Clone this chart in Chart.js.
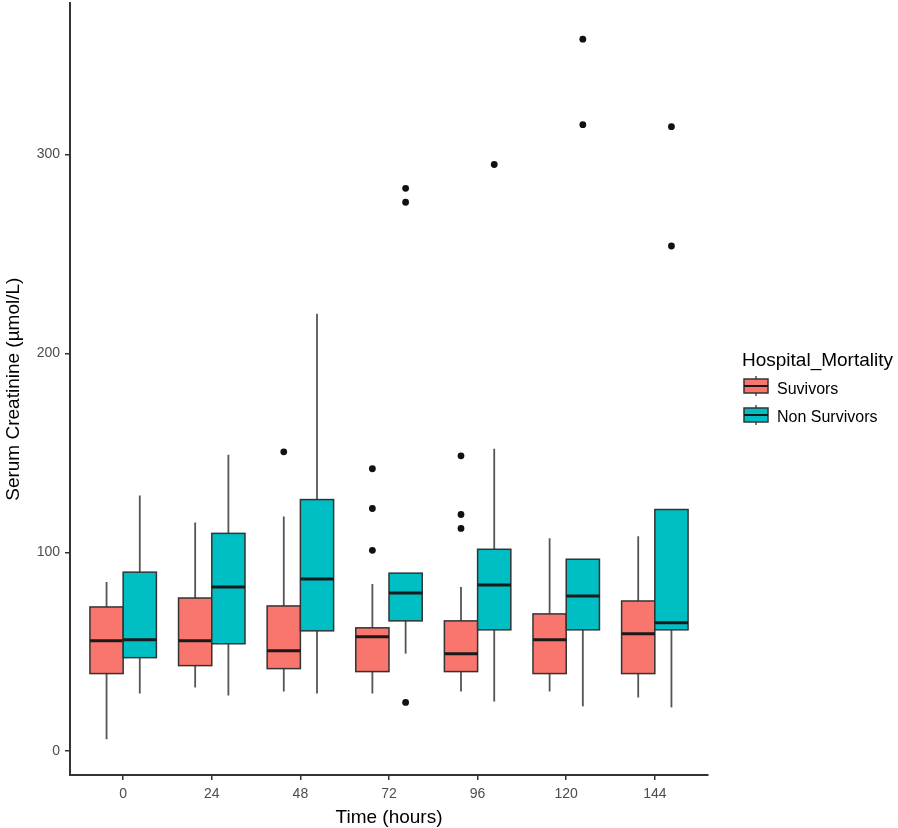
<!DOCTYPE html>
<html>
<head>
<meta charset="utf-8">
<script src="https://cdn.jsdelivr.net/npm/chart.js@4/dist/chart.umd.min.js"></script>
<style>
html,body{margin:0;padding:0;background:#fff;}
#wrap{width:898px;height:828px;position:relative;}
</style>
</head>
<body>
<div id="wrap"><canvas id="c" width="898" height="828"></canvas></div>
<script>
// ---- data ----
const categories = ['0', '24', '48', '72', '96', '120', '144'];
const yTicks = [0, 100, 200, 300];

const seriesNames = ['Suvivors', 'Non Survivors'];
const seriesColors = ['#F8766D', '#00BFC4'];

const survLow    = [6, 32, 30, 29, 30, 30, 27];
const survQ1     = [39, 43, 41.5, 40, 40, 39, 39];
const survMedian = [55.5, 55.5, 50.5, 57.5, 49, 56, 59];
const survQ3     = [72.5, 77, 73, 62, 65.5, 69, 75.5];
const survHigh   = [85, 115, 118, 84, 82.5, 107, 108];
const survOut    = [[], [], [150.5], [142, 122, 101], [148.5, 119, 112], [], []];

const nonLow     = [29, 28, 29, 49, 25, 22.5, 22];
const nonQ1      = [47, 54, 60.5, 65.5, 61, 61, 61];
const nonMedian  = [56, 82.5, 86.5, 79.5, 83.5, 78, 64.5];
const nonQ3      = [90, 109.5, 126.5, 89.5, 101.5, 96.5, 121.5];
const nonHigh    = [128.5, 149, 220, 89.5, 152, 96.5, 121.5];
const nonOut     = [[], [], [], [283, 276, 24.5], [295], [358, 315], [314, 254]];

// ---- build structures for the library ----
const FONT = '"Liberation Sans", Arial, Helvetica, sans-serif';
const DODGE = 0.375; // width of one box in category units
const series = [
  {low: survLow, q1: survQ1, med: survMedian, q3: survQ3, high: survHigh, out: survOut, side: -1},
  {low: nonLow,  q1: nonQ1,  med: nonMedian,  q3: nonQ3,  high: nonHigh,  out: nonOut,  side: 1}
];

const outlierData = [];
series.forEach(s => {
  s.out.forEach((arr, i) => {
    arr.forEach(v => outlierData.push({x: i + s.side * DODGE / 2, y: v}));
  });
});

const boxPlugin = {
  id: 'boxes',
  beforeDatasetsDraw(chart) {
    const {ctx, scales: {x, y}} = chart;
    ctx.save();
    series.forEach((s, si) => {
      categories.forEach((c, i) => {
        const xa = x.getPixelForValue(i + (s.side < 0 ? -DODGE : 0));
        const xb = x.getPixelForValue(i + (s.side < 0 ? 0 : DODGE));
        const xc = (xa + xb) / 2;
        const yLow = y.getPixelForValue(s.low[i]);
        const yQ1 = y.getPixelForValue(s.q1[i]);
        const yMed = y.getPixelForValue(s.med[i]);
        const yQ3 = y.getPixelForValue(s.q3[i]);
        const yHigh = y.getPixelForValue(s.high[i]);
        // whiskers
        ctx.strokeStyle = '#555555';
        ctx.lineWidth = 1.8;
        ctx.beginPath();
        ctx.moveTo(xc, yLow); ctx.lineTo(xc, yQ1);
        ctx.moveTo(xc, yQ3); ctx.lineTo(xc, yHigh);
        ctx.stroke();
        // box
        ctx.fillStyle = seriesColors[si];
        ctx.fillRect(xa, yQ3, xb - xa, yQ1 - yQ3);
        ctx.strokeStyle = '#333333';
        ctx.lineWidth = 1.5;
        ctx.strokeRect(xa, yQ3, xb - xa, yQ1 - yQ3);
        // median
        ctx.strokeStyle = '#1a1a1a';
        ctx.lineWidth = 3;
        ctx.beginPath();
        ctx.moveTo(xa, yMed); ctx.lineTo(xb, yMed);
        ctx.stroke();
      });
    });
    ctx.restore();
  }
};

const legendPlugin = {
  id: 'boxLegend',
  afterDraw(chart) {
    const ctx = chart.ctx;
    ctx.save();
    ctx.fillStyle = '#000';
    ctx.font = '19px ' + FONT;
    ctx.textBaseline = 'alphabetic';
    ctx.textAlign = 'left';
    ctx.fillText('Hospital_Mortality', 742, 366);
    const keys = [{top: 379, base: 393.5}, {top: 408, base: 422}];
    keys.forEach((k, i) => {
      const x0 = 744, w = 24, h = 14;
      const xc = x0 + w / 2;
      ctx.strokeStyle = '#555555';
      ctx.lineWidth = 1.5;
      ctx.beginPath();
      ctx.moveTo(xc, k.top - 3); ctx.lineTo(xc, k.top);
      ctx.moveTo(xc, k.top + h); ctx.lineTo(xc, k.top + h + 3);
      ctx.stroke();
      ctx.fillStyle = seriesColors[i];
      ctx.fillRect(x0, k.top, w, h);
      ctx.strokeStyle = '#333';
      ctx.lineWidth = 1.5;
      ctx.strokeRect(x0, k.top, w, h);
      ctx.strokeStyle = '#1a1a1a';
      ctx.lineWidth = 2;
      ctx.beginPath();
      ctx.moveTo(x0, k.top + h / 2); ctx.lineTo(x0 + w, k.top + h / 2);
      ctx.stroke();
      ctx.fillStyle = '#000';
      ctx.font = '16px ' + FONT;
      ctx.fillText(seriesNames[i], 777, k.base);
    });
    ctx.restore();
  }
};

new Chart(document.getElementById('c'), {
  type: 'scatter',
  data: {
    datasets: [{
      label: 'outliers',
      data: outlierData,
      pointRadius: 3.4,
      pointHoverRadius: 3.4,
      pointBackgroundColor: '#111',
      pointBorderColor: '#111',
      pointBorderWidth: 0
    }]
  },
  options: {
    responsive: false,
    devicePixelRatio: 1,
    animation: false,
    layout: {padding: {left: 0, top: 0, right: 190, bottom: 0}},
    plugins: {legend: {display: false}, tooltip: {enabled: false}},
    scales: {
      x: {
        type: 'linear',
        min: -0.6,
        max: 6.6,
        afterBuildTicks: s => { s.ticks = categories.map((c, i) => ({value: i})); },
        afterFit: s => { s.height = 53; s.paddingLeft = 0; s.paddingRight = 0; },
        ticks: {
          callback: v => categories[v],
          font: {family: FONT, size: 14},
          color: '#4D4D4D',
          padding: 6,
          maxRotation: 0,
          autoSkip: false
        },
        grid: {display: true, drawOnChartArea: false, drawTicks: true, tickLength: 5, color: '#333', lineWidth: 1.5},
        border: {display: true, color: '#333', width: 2},
        title: {display: true, text: 'Time (hours)', color: '#000', font: {family: FONT, size: 19, lineHeight: 1.1}, padding: 0}
      },
      y: {
        type: 'linear',
        min: -12,
        max: 376,
        afterBuildTicks: s => { s.ticks = yTicks.map(v => ({value: v})); },
        afterFit: s => { s.width = 70; s.paddingTop = 0; s.paddingBottom = 0; },
        ticks: {
          font: {family: FONT, size: 14},
          color: '#4D4D4D',
          padding: 5
        },
        grid: {display: true, drawOnChartArea: false, drawTicks: true, tickLength: 5, color: '#333', lineWidth: 1.5},
        border: {display: true, color: '#333', width: 2},
        title: {display: true, text: 'Serum Creatinine (µmol/L)', color: '#000', font: {family: FONT, size: 19, lineHeight: 1.1}, padding: {top: 3.6, bottom: 0}}
      }
    }
  },
  plugins: [boxPlugin, legendPlugin]
});
</script>
</body>
</html>
